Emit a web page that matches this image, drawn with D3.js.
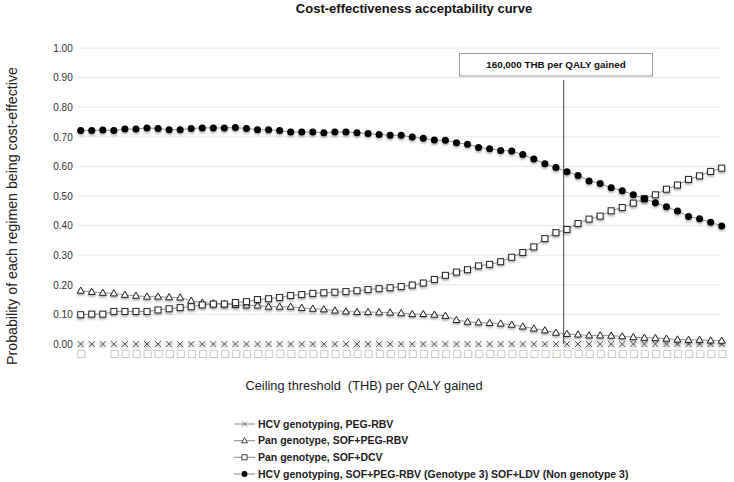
<!DOCTYPE html>
<html>
<head>
<meta charset="utf-8">
<script src="https://cdn.jsdelivr.net/npm/d3@7/dist/d3.min.js"></script>
<style>
  html, body { margin: 0; padding: 0; background: #fff; }
  svg { display: block; font-family: "Liberation Sans", Arial, sans-serif; }
</style>
</head>
<body>
<svg id="chart" width="734" height="482"></svg>
<script>
// ---------- data ----------
const xTickLabels = [
  "□","","","□","□","□","□","□","□","□",
  "□","□","□","□","□","□","□","□","□","□",
  "□","□","□","□","□","□","□","□","□","□",
  "□","□","□","□","□","□","□","□","□","□",
  "□","□","□","□","□","□","□","□","□","□",
  "□","□","□","□","□","□","□","□","□"
];
const yTicks = [0,0.1,0.2,0.3,0.4,0.5,0.6,0.7,0.8,0.9,1.0];

const seriesNames = [
  "HCV genotyping, PEG-RBV",
  "Pan genotype, SOF+PEG-RBV",
  "Pan genotype, SOF+DCV",
  "HCV genotyping, SOF+PEG-RBV (Genotype 3) SOF+LDV (Non genotype 3)"
];

const pegRbv = [
  0,0,0,0,0,0,0,0,0,0, 0,0,0,0,0,0,0,0,0,0,
  0,0,0,0,0,0,0,0,0,0, 0,0,0,0,0,0,0,0,0,0,
  0,0,0,0,0,0,0,0,0,0, 0,0,0,0,0,0,0,0,0
];
const sofPegRbv = [
  0.180,0.176,0.173,0.171,0.166,0.163,0.160,0.160,0.158,0.157,
  0.146,0.140,0.137,0.135,0.132,0.130,0.130,0.126,0.126,0.126,
  0.122,0.119,0.117,0.113,0.110,0.108,0.108,0.107,0.106,0.104,
  0.101,0.101,0.099,0.095,0.081,0.075,0.073,0.071,0.069,0.065,
  0.059,0.052,0.046,0.038,0.034,0.032,0.029,0.029,0.028,0.026,
  0.023,0.021,0.020,0.018,0.015,0.014,0.014,0.012,0.011
];
const sofDcv = [
  0.099,0.101,0.101,0.110,0.110,0.110,0.110,0.115,0.119,0.123,
  0.126,0.132,0.135,0.135,0.140,0.143,0.150,0.153,0.157,0.164,
  0.167,0.171,0.173,0.175,0.177,0.180,0.184,0.187,0.190,0.194,
  0.199,0.206,0.218,0.232,0.243,0.251,0.264,0.269,0.278,0.293,
  0.309,0.328,0.356,0.376,0.387,0.407,0.422,0.432,0.450,0.461,
  0.476,0.491,0.504,0.523,0.537,0.556,0.568,0.583,0.594
];
const genotyping = [
  0.721,0.721,0.723,0.721,0.726,0.726,0.730,0.728,0.724,0.724,
  0.728,0.730,0.730,0.730,0.731,0.728,0.724,0.724,0.721,0.716,
  0.716,0.716,0.714,0.716,0.716,0.714,0.711,0.708,0.705,0.705,
  0.699,0.695,0.689,0.688,0.680,0.675,0.664,0.660,0.654,0.652,
  0.640,0.625,0.609,0.596,0.582,0.569,0.551,0.542,0.528,0.518,
  0.504,0.491,0.477,0.464,0.449,0.431,0.423,0.411,0.399
];
const thresholdIndex = 43.7; // position of 160,000 THB per QALY among categories
const thresholdLabel = "160,000 THB per QALY gained";

// ---------- layout ----------
const svg = d3.select("#chart");
const plot = { left: 80.7, right: 721.7, top: 48, bottom: 344 };

const x = d3.scaleLinear().domain([0, xTickLabels.length - 1]).range([plot.left, plot.right]);
const y = d3.scaleLinear().domain([0, 1]).range([plot.bottom, plot.top]);

// shadow filter
const defs = svg.append("defs");
const f = defs.append("filter").attr("id", "shadow")
  .attr("x", "-50%").attr("y", "-50%").attr("width", "200%").attr("height", "200%");
f.append("feDropShadow").attr("dx", 0).attr("dy", 1.6).attr("stdDeviation", 1)
  .attr("flood-color", "#000").attr("flood-opacity", 0.35);

// title
svg.append("text").attr("x", 414).attr("y", 12.5).attr("text-anchor", "middle")
  .attr("font-weight", "bold").attr("font-size", 13).attr("fill", "#111")
  .text("Cost-effectiveness acceptability curve");

// gridlines
svg.append("g").selectAll("line").data(yTicks).join("line")
  .attr("x1", plot.left - 1.5).attr("x2", plot.right)
  .attr("y1", d => y(d)).attr("y2", d => y(d))
  .attr("stroke", "#e8e8e8").attr("stroke-width", 1);

// y axis
const yAxis = svg.append("g").attr("transform", `translate(${plot.left},0)`)
  .call(d3.axisLeft(y).tickValues(yTicks).tickFormat(d3.format(".2f")).tickSize(0).tickPadding(8));
yAxis.select(".domain").remove();
yAxis.selectAll("text").attr("font-size", 10).attr("fill", "#333")
  .attr("font-family", "Liberation Sans, Arial, sans-serif");

// x axis (category labels)
const xAxis = svg.append("g").attr("transform", `translate(0,${plot.bottom})`)
  .call(d3.axisBottom(x).tickValues(d3.range(xTickLabels.length)).tickFormat(i => xTickLabels[i]).tickSize(0).tickPadding(6));
xAxis.select(".domain").remove();
xAxis.selectAll("text").attr("font-size", 10).attr("fill", "#a8a8a8")
  .attr("font-family", "DejaVu Sans, sans-serif");

// axis titles
svg.append("text").attr("transform", "translate(16.5,216) rotate(-90)")
  .attr("text-anchor", "middle").attr("font-size", 14.2).attr("fill", "#222")
  .text("Probability of each regimen being cost-effective");
svg.append("text").attr("x", 364).attr("y", 389.5).attr("text-anchor", "middle")
  .attr("font-size", 12.8).attr("fill", "#222").style("white-space", "pre")
  .text("Ceiling threshold  (THB) per QALY gained");

// threshold line + box
svg.append("line").attr("x1", x(thresholdIndex)).attr("x2", x(thresholdIndex))
  .attr("y1", 80).attr("y2", y(0)).attr("stroke", "#444").attr("stroke-width", 1);
svg.append("rect").attr("x", 459.5).attr("y", 53.5).attr("width", 193).attr("height", 22.5)
  .attr("fill", "#fff").attr("stroke", "#999").attr("stroke-width", 1);
svg.append("text").attr("x", 556).attr("y", 68).attr("text-anchor", "middle")
  .attr("font-size", 9.8).attr("font-weight", "bold").attr("fill", "#111")
  .text(thresholdLabel);

// markers
function drawMarker(g, type) {
  if (type === "x") {
    g.append("path").attr("d", "M-3,-3L3,3M-3,3L3,-3").attr("stroke", "#555").attr("stroke-width", 1).attr("fill", "none");
  } else if (type === "tri") {
    g.append("path").attr("d", "M0,-3.7L3.5,2.5L-3.5,2.5Z").attr("stroke", "#222").attr("stroke-width", 1).attr("fill", "#fff");
  } else if (type === "sq") {
    g.append("rect").attr("x", -3).attr("y", -3).attr("width", 6).attr("height", 6).attr("stroke", "#222").attr("stroke-width", 1).attr("fill", "#fff");
  } else {
    g.append("circle").attr("r", 3.5).attr("fill", "#000");
  }
}

const series = [
  { name: seriesNames[0], values: pegRbv, marker: "x", line: "#999", lw: 1.5 },
  { name: seriesNames[1], values: sofPegRbv, marker: "tri", line: "#777", lw: 0.8 },
  { name: seriesNames[2], values: sofDcv, marker: "sq", line: "#777", lw: 0.8 },
  { name: seriesNames[3], values: genotyping, marker: "dot", line: "#777", lw: 0.8 }
];

const line = d3.line().x((d, i) => x(i)).y(d => y(d));
series.forEach(s => {
  svg.append("path").datum(s.values).attr("d", line)
    .attr("fill", "none").attr("stroke", s.line).attr("stroke-width", s.lw)
    .attr("filter", s.marker === "x" ? "url(#shadow)" : null);
});
series.forEach(s => {
  const g = svg.append("g").attr("filter", "url(#shadow)");
  g.selectAll("g").data(s.values).join("g")
    .attr("transform", (d, i) => `translate(${x(i)},${y(d)})`)
    .each(function () { drawMarker(d3.select(this), s.marker); });
});

// legend
const legY = [424, 440.7, 457.3, 474];
series.forEach((s, i) => {
  const g = svg.append("g").attr("transform", `translate(0,${legY[i]})`);
  g.append("line").attr("x1", 234).attr("x2", 255).attr("stroke", "#888").attr("stroke-width", 1);
  const m = g.append("g").attr("transform", "translate(244.5,0) scale(0.85)");
  drawMarker(m, s.marker);
  g.append("text").attr("x", 258).attr("dy", "0.35em").attr("font-size", 10.5)
    .attr("font-weight", "bold").attr("fill", "#222").text(s.name);
});
</script>
</body>
</html>
